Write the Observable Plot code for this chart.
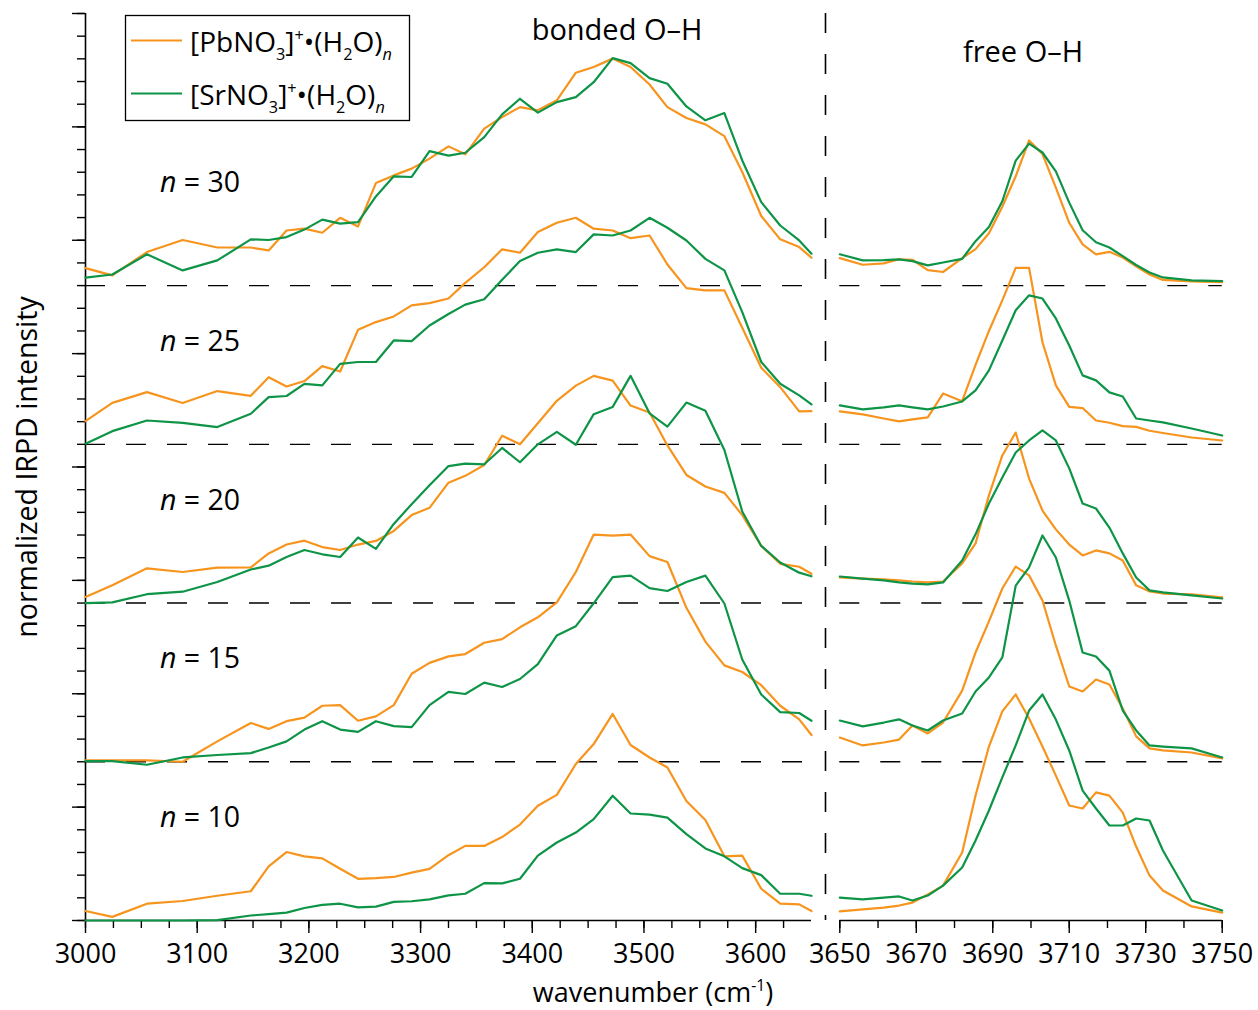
<!DOCTYPE html>
<html><head><meta charset="utf-8">
<script src="https://cdn.jsdelivr.net/npm/d3@7"></script>
<script src="https://cdn.jsdelivr.net/npm/@observablehq/plot@0.6"></script>
<style>
body{margin:0;background:#fff;}
#wrap{position:relative;width:1258px;height:1010px;overflow:hidden;background:#fff;}
#wrap svg{position:absolute;left:0;top:0;}
</style></head><body><div id="wrap"></div>
<script>
// ---------- data ----------
const sizes = [10, 15, 20, 25, 30];
const offsets = [0, 0.7, 1.4, 2.1, 2.8];
const metals = ["[PbNO3]+•(H2O)n", "[SrNO3]+•(H2O)n"];
const bondedTicks = [3000, 3100, 3200, 3300, 3400, 3500, 3600];
const freeTicks = [3650, 3670, 3690, 3710, 3730, 3750];

const bondedX = [3000,3024,3055,3087,3118,3148,3164,3180,3196,3212,3228,3244,3260,3276,3292,3308,3325,3340,3357,3373,3389,3405,3422,3439,3455,3472,3488,3505,3521,3538,3555,3572,3588,3605,3622,3639,3650];

const bondedPb10 = [0.042,0.016,0.074,0.086,0.109,0.129,0.239,0.302,0.283,0.274,0.228,0.184,0.187,0.192,0.211,0.228,0.288,0.329,0.329,0.368,0.423,0.506,0.554,0.690,0.778,0.911,0.774,0.719,0.675,0.527,0.443,0.283,0.286,0.140,0.074,0.071,0.042];
const bondedSr10 = [0,0,0,0,0.002,0.022,0.028,0.035,0.055,0.069,0.074,0.058,0.061,0.082,0.085,0.093,0.111,0.118,0.165,0.164,0.184,0.286,0.344,0.388,0.447,0.550,0.472,0.467,0.454,0.381,0.318,0.283,0.231,0.200,0.118,0.118,0.109];
const bondedPb15 = [0.006,0.006,0.006,0,0.090,0.171,0.145,0.179,0.195,0.247,0.250,0.181,0.200,0.250,0.388,0.436,0.465,0.475,0.525,0.541,0.593,0.637,0.703,0.837,1.002,0.997,1.002,0.907,0.881,0.679,0.530,0.425,0.396,0.338,0.247,0.187,0.118];
const bondedSr15 = [0.003,0.003,-0.013,0.019,0.030,0.038,0.063,0.090,0.142,0.179,0.142,0.132,0.179,0.157,0.153,0.250,0.308,0.299,0.349,0.330,0.365,0.431,0.557,0.598,0.699,0.814,0.821,0.766,0.753,0.793,0.821,0.698,0.451,0.297,0.219,0.215,0.181];
const bondedPb20 = [0.027,0.079,0.153,0.137,0.156,0.157,0.219,0.258,0.275,0.247,0.234,0.258,0.274,0.318,0.388,0.420,0.531,0.561,0.609,0.738,0.700,0.793,0.892,0.959,1.002,0.981,0.871,0.840,0.695,0.565,0.514,0.486,0.388,0.252,0.173,0.160,0.129];
const bondedSr20 = [0,0.003,0.039,0.050,0.093,0.148,0.165,0.203,0.234,0.215,0.203,0.289,0.239,0.349,0.436,0.519,0.604,0.615,0.612,0.684,0.621,0.700,0.755,0.698,0.833,0.865,1.002,0.837,0.778,0.884,0.848,0.675,0.404,0.252,0.179,0.134,0.118];
const bondedPb25 = [0.102,0.183,0.230,0.182,0.235,0.214,0.296,0.255,0.279,0.345,0.321,0.505,0.539,0.564,0.613,0.623,0.643,0.712,0.781,0.860,0.845,0.936,0.977,0.999,0.951,0.943,0.909,0.921,0.793,0.689,0.679,0.679,0.514,0.338,0.252,0.145,0.146];
const bondedSr25 = [0.003,0.058,0.105,0.095,0.076,0.135,0.208,0.213,0.267,0.260,0.355,0.363,0.363,0.458,0.455,0.524,0.575,0.616,0.640,0.726,0.808,0.845,0.860,0.848,0.926,0.921,0.943,0.999,0.955,0.899,0.818,0.767,0.583,0.363,0.267,0.216,0.176];
const bondedPb30 = [0.077,0.045,0.148,0.201,0.168,0.168,0.155,0.243,0.251,0.233,0.299,0.261,0.452,0.486,0.516,0.560,0.614,0.579,0.692,0.743,0.787,0.773,0.817,0.939,0.964,1.001,0.964,0.887,0.787,0.739,0.711,0.659,0.501,0.307,0.204,0.170,0.123];
const bondedSr30 = [0.035,0.049,0.138,0.067,0.111,0.204,0.201,0.214,0.247,0.291,0.273,0.280,0.393,0.482,0.479,0.593,0.573,0.586,0.655,0.755,0.824,0.763,0.809,0.831,0.897,1.003,0.981,0.915,0.890,0.790,0.729,0.761,0.552,0.368,0.265,0.199,0.141];

const freeX = [3650,3656,3661.5,3665.5,3669,3673,3677,3682,3685.5,3689,3692.5,3696,3699.5,3703,3706.5,3710,3713.5,3717,3720.5,3724,3727.5,3731,3734.5,3742,3750];

const freePb10 = [0.040,0.049,0.057,0.066,0.079,0.115,0.154,0.300,0.551,0.767,0.922,0.997,0.891,0.767,0.639,0.507,0.494,0.565,0.551,0.476,0.326,0.198,0.132,0.062,0.035];
const freeSr10 = [0.101,0.093,0.101,0.106,0.088,0.110,0.154,0.234,0.353,0.485,0.631,0.772,0.926,0.997,0.886,0.750,0.573,0.494,0.419,0.419,0.450,0.441,0.309,0.088,0.044];
const freePb15 = [0.107,0.072,0.085,0.098,0.160,0.125,0.173,0.314,0.482,0.619,0.764,0.861,0.822,0.711,0.513,0.332,0.310,0.363,0.341,0.235,0.112,0.059,0.050,0.041,0.015];
const freeSr15 = [0.182,0.156,0.173,0.187,0.160,0.138,0.182,0.213,0.310,0.372,0.460,0.777,0.857,0.998,0.901,0.711,0.482,0.464,0.402,0.226,0.138,0.072,0.067,0.059,0.019];
const freePb20 = [0.113,0.108,0.104,0.100,0.095,0.091,0.095,0.175,0.263,0.475,0.651,0.752,0.549,0.408,0.325,0.258,0.210,0.232,0.219,0.188,0.078,0.051,0.042,0.038,0.025];
const freeSr20 = [0.117,0.108,0.100,0.091,0.086,0.082,0.091,0.188,0.303,0.439,0.554,0.664,0.717,0.761,0.717,0.594,0.439,0.417,0.333,0.219,0.113,0.056,0.047,0.034,0.020];
const freePb25 = [0.145,0.132,0.114,0.101,0.110,0.119,0.224,0.190,0.350,0.500,0.635,0.778,0.778,0.450,0.260,0.165,0.160,0.105,0.095,0.080,0.077,0.060,0.050,0.030,0.017];
const freeSr25 = [0.172,0.154,0.163,0.172,0.163,0.154,0.167,0.189,0.238,0.326,0.458,0.591,0.657,0.643,0.555,0.436,0.304,0.282,0.229,0.211,0.114,0.105,0.097,0.070,0.039];
const freePb30 = [0.121,0.092,0.098,0.116,0.114,0.068,0.060,0.121,0.161,0.231,0.348,0.482,0.640,0.580,0.432,0.277,0.182,0.138,0.149,0.124,0.085,0.049,0.025,0.019,0.015];
const freeSr30 = [0.138,0.111,0.112,0.116,0.108,0.089,0.102,0.118,0.196,0.258,0.372,0.551,0.626,0.587,0.504,0.366,0.244,0.191,0.168,0.130,0.091,0.058,0.036,0.023,0.020];

// ---------- build tables ----------
const ORANGE = "#f7941d", GREEN = "#0d9447";
const FONT = '"Open Sans", "DejaVu Sans", sans-serif';
function rows(xs, list, metal) {
  return list.flatMap((vals, i) => vals.map((v, j) => ({w: xs[j], y: v + offsets[i], n: sizes[i], metal})));
}
const bondedPb = rows(bondedX, [bondedPb10, bondedPb15, bondedPb20, bondedPb25, bondedPb30], metals[0]);
const bondedSr = rows(bondedX, [bondedSr10, bondedSr15, bondedSr20, bondedSr25, bondedSr30], metals[1]);
const freePb = rows(freeX, [freePb10, freePb15, freePb20, freePb25, freePb30], metals[0]);
const freeSr = rows(freeX, [freeSr10, freeSr15, freeSr20, freeSr25, freeSr30], metals[1]);

const yMinor = d3.range(0, 41).map(i => i / 10);
const yMajor = d3.range(0, 9).map(i => i / 2);
const bondedMinor = d3.range(3000, 3626, 25);
const freeMinor = d3.range(3650, 3751, 10);

const W = 1258, H = 1010;
const baseStyle = {background: "transparent", fontFamily: FONT, fontSize: "27px", color: "#000", overflow: "visible"};
const dash = "20,21";

const left = Plot.plot({
  width: W, height: H, marginLeft: 85, marginRight: 447, marginTop: 13, marginBottom: 90,
  x: {domain: [3000, 3650], label: null}, y: {domain: [0, 4], label: null},
  style: baseStyle,
  marks: [
    Plot.ruleY(offsets.slice(1), {stroke: "#000", strokeWidth: 1.4, strokeDasharray: dash}),
    Plot.ruleY([0], {stroke: "#000", strokeWidth: 1.6}),
    Plot.ruleX([3000], {stroke: "#000", strokeWidth: 1.6}),
    Plot.axisY({ticks: yMinor, tickSize: 8, tickFormat: () => "", strokeWidth: 1.4, label: null}),
    Plot.axisY({ticks: yMajor, tickSize: 13, tickFormat: () => "", strokeWidth: 1.4, label: null}),
    Plot.axisX({ticks: bondedMinor, tickSize: 8, tickFormat: () => "", strokeWidth: 1.4, label: null}),
    Plot.axisX({ticks: bondedTicks, tickSize: 13, tickPadding: 10, tickFormat: d => String(d), strokeWidth: 1.4, label: null}),
    Plot.line(bondedPb, {x: "w", y: "y", z: "n", stroke: ORANGE, strokeWidth: 2.2}),
    Plot.line(bondedSr, {x: "w", y: "y", z: "n", stroke: GREEN, strokeWidth: 2.2})
  ]
});

const right = Plot.plot({
  width: W, height: H, marginLeft: 839.3, marginRight: 36.3, marginTop: 13, marginBottom: 90,
  x: {domain: [3650, 3750], label: null}, y: {domain: [0, 4], label: null, axis: null},
  style: baseStyle,
  marks: [
    Plot.ruleY(offsets.slice(1), {stroke: "#000", strokeWidth: 1.4, strokeDasharray: dash}),
    Plot.ruleY([0], {stroke: "#000", strokeWidth: 1.6}),
    Plot.ruleX([3650], {dx: -14.3, stroke: "#000", strokeWidth: 1.6, strokeDasharray: dash}),
    Plot.axisX({ticks: freeMinor, tickSize: 8, tickFormat: () => "", strokeWidth: 1.4, label: null}),
    Plot.axisX({ticks: freeTicks, tickSize: 13, tickPadding: 10, tickFormat: d => String(d), strokeWidth: 1.4, label: null}),
    Plot.line(freePb, {x: "w", y: "y", z: "n", stroke: ORANGE, strokeWidth: 2.2}),
    Plot.line(freeSr, {x: "w", y: "y", z: "n", stroke: GREEN, strokeWidth: 2.2})
  ]
});

const wrap = document.getElementById("wrap");
wrap.appendChild(left);
wrap.appendChild(right);

// ---------- annotations ----------
const yS = left.scale("y");
const ov = d3.select(wrap).append("svg").attr("width", W).attr("height", H)
  .style("font-family", FONT).style("fill", "#000");

function rich(g, x, y, parts, size, anchor) {
  const t = g.append("text").attr("x", x).attr("y", y).attr("font-size", size).attr("text-anchor", anchor || "start");
  let shift = 0;
  for (const p of parts) {
    const target = p.sub ? 8 : p.sup ? -11 : 0;
    const ts = t.append("tspan").attr("dy", target - shift).text(p.t);
    shift = target;
    if (p.sub || p.sup) ts.attr("font-size", size * 0.58);
    if (p.i) ts.attr("font-style", "italic");
  }
  return t;
}

// panel titles
ov.append("text").attr("x", 617).attr("y", 40).attr("text-anchor", "middle").attr("font-size", 29).text("bonded O–H");
ov.append("text").attr("x", 1023).attr("y", 62).attr("text-anchor", "middle").attr("font-size", 29).text("free O–H");

// n labels
sizes.forEach((n, i) => {
  const t = ov.append("text").attr("x", 160).attr("y", yS.apply(offsets[i]) - 93).attr("font-size", 28.5);
  t.append("tspan").attr("font-style", "italic").text("n");
  t.append("tspan").text(" = " + n);
});

// axis titles
rich(ov, 653, 1001.5, [{t: "wavenumber (cm"}, {t: "-1", sup: true}, {t: ")"}], 27, "middle");
ov.append("text").attr("transform", "translate(37,467) rotate(-90)").attr("text-anchor", "middle").attr("font-size", 28.5).text("normalized IRPD intensity");

// legend
const lg = ov.append("g");
lg.append("rect").attr("x", 125.5).attr("y", 15.5).attr("width", 284).attr("height", 105).attr("fill", "none").attr("stroke", "#000").attr("stroke-width", 1.3);
lg.append("line").attr("x1", 131).attr("x2", 182).attr("y1", 40.5).attr("y2", 40.5).attr("stroke", ORANGE).attr("stroke-width", 2.2);
lg.append("line").attr("x1", 131).attr("x2", 182).attr("y1", 93.5).attr("y2", 93.5).attr("stroke", GREEN).attr("stroke-width", 2.2);
rich(lg, 190, 52, [{t: "[PbNO"}, {t: "3", sub: true}, {t: "]"}, {t: "+", sup: true}, {t: "•(H"}, {t: "2", sub: true}, {t: "O)"}, {t: "n", sub: true, i: true}], 28);
rich(lg, 190, 105, [{t: "[SrNO"}, {t: "3", sub: true}, {t: "]"}, {t: "+", sup: true}, {t: "•(H"}, {t: "2", sub: true}, {t: "O)"}, {t: "n", sub: true, i: true}], 28);
</script></body></html>
